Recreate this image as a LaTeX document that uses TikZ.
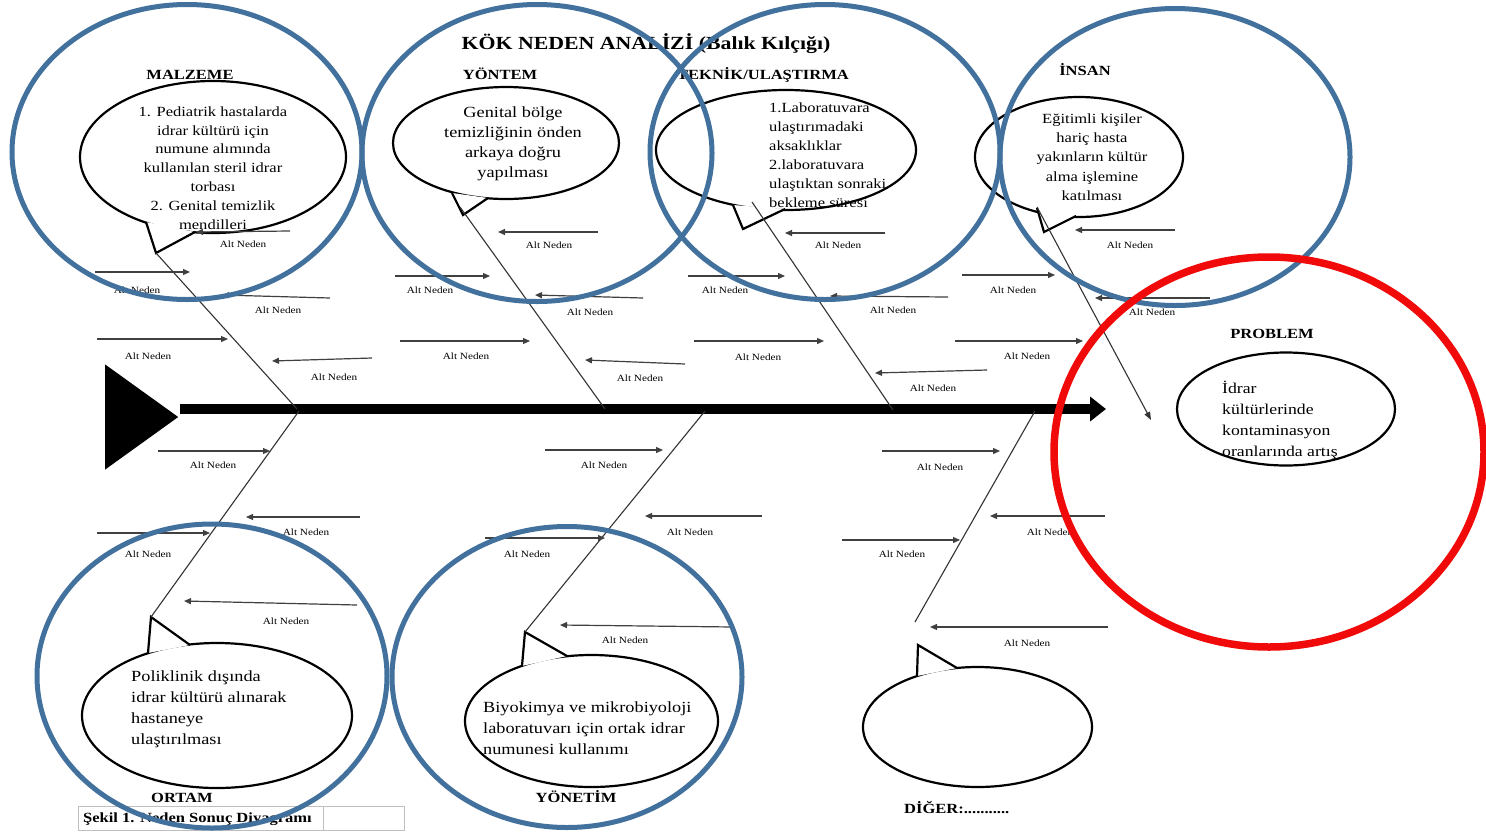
\documentclass[tikz,border=0pt]{standalone}
\usepackage{fontspec}
\setmainfont{Liberation Serif}[FakeStretch=1.18]
\usetikzlibrary{arrows.meta,shapes.geometric}
\definecolor{bluecirc}{RGB}{65,113,156}
\definecolor{redcirc}{RGB}{240,10,10}
\tikzset{
  bone/.style={draw=black!80, line width=1.1pt},
  altarrow/.style={draw=black!75, line width=1.2pt, -{Triangle[length=7pt,width=6pt]}},
  altlbl/.style={font=\fontsize{9.5}{10}\selectfont, inner sep=0pt},
  cat/.style={font=\fontsize{14}{16}\selectfont\bfseries, inner sep=0pt},
  bubble/.style={ellipse, draw=black, line width=2.2pt, fill=white, inner sep=0pt},
  tailfill/.style={fill=white, draw=none},
  tailline/.style={draw=black, line width=2.2pt, line join=miter},
  btext/.style={inner sep=0pt, align=center},
  loop/.style={ellipse, draw=bluecirc, line width=5pt, inner sep=0pt},
  redloop/.style={ellipse, draw=redcirc, line width=7.5pt, inner sep=0pt},
}
\newcommand\altn[7]{%
  \coordinate (#1s) at (#2,#3);
  \coordinate (#1e) at (#4,#5);
  \draw[altarrow] (#1s) -- (#1e);
  \node[altlbl] (#1l) at (#6,#7) {Alt Neden};}
\newcommand\tail[4]{%
  \fill[tailfill] (#2) -- (#3) -- (#4) -- cycle;
  \draw[tailline] (#2) -- (#3) -- (#4);}
\begin{document}
\begin{tikzpicture}[x=1pt,y=-1pt]
\useasboundingbox[fill=white] (0,0) rectangle (1486,831);

% title
\node[font=\fontsize{18.5}{20}\selectfont\bfseries, inner sep=0pt] (title) at (646,44) {KÖK NEDEN ANALİZİ (Balık Kılçığı)};

% head and spine
\node[isosceles triangle, fill=black, minimum height=73pt, minimum width=105pt, isosceles triangle stretches, inner sep=0pt, anchor=west] (head) at (105,417) {};
\coordinate (spS) at (180,409);
\coordinate (spE) at (1106,409);
\draw[line width=10pt, -{Triangle[length=16pt,width=24pt]}] (spS) -- (spE);

% bones
\coordinate (b1a) at (156,253); \coordinate (b1b) at (297,409);
\coordinate (b2a) at (460,207); \coordinate (b2b) at (605,409);
\coordinate (b3a) at (752,202); \coordinate (b3b) at (893,410);
\coordinate (b4a) at (1037,207); \coordinate (b4b) at (1151,420);
\coordinate (b5a) at (151,617); \coordinate (b5b) at (299,411);
\coordinate (b6a) at (525,632); \coordinate (b6b) at (705,411);
\coordinate (b7a) at (915,622); \coordinate (b7b) at (1035,411);

% bubbles
\node[bubble, minimum width=266pt, minimum height=152pt] (m) at (213,157) {};
\coordinate (m1) at (146,222); \coordinate (m2) at (195,232);
\tail{m}{m1}{b1a}{m2}
\node[btext, font=\fontsize{14}{18.8}\selectfont] (mt) at (213,168) {1. Pediatrik hastalarda\\idrar kültürü için\\numune alımında\\kullanılan steril idrar\\torbası\\2. Genital temizlik\\mendilleri};

\node[bubble, minimum width=226pt, minimum height=112pt] (y) at (506,143) {};
\coordinate (y1) at (452,193); \coordinate (y2) at (488,198); \coordinate (yt) at (463,215);
\tail{y}{y1}{yt}{y2}
\node[btext, font=\fontsize{15.5}{20}\selectfont] (yx) at (513,144) {Genital bölge\\temizliğinin önden\\arkaya doğru\\yapılması};

\node[bubble, minimum width=260pt, minimum height=120pt] (t) at (786,150) {};
\coordinate (t1) at (733,205); \coordinate (t2) at (785,209); \coordinate (tt) at (743,229);
\tail{t}{t1}{tt}{t2}
\node[btext, align=left, anchor=west, font=\fontsize{14}{19}\selectfont] (tx) at (769,155) {1.Laboratuvara\\ulaştırımadaki\\aksaklıklar\\2.laboratuvara\\ulaştıktan sonraki\\bekleme süresi};

\node[bubble, minimum width=208pt, minimum height=120pt] (i) at (1079,157) {};
\coordinate (i1) at (1037,208); \coordinate (i2) at (1076,216); \coordinate (it) at (1044,232);
\tail{i}{i1}{it}{i2}
\node[btext, font=\fontsize{14}{19.3}\selectfont] (ix) at (1092,157) {Eğitimli kişiler\\hariç hasta\\yakınların kültür\\alma işlemine\\katılması};

\node[bubble, minimum width=218pt, minimum height=113pt] (p) at (1286,409) {};
\node[btext, align=left, anchor=west, font=\fontsize{15}{21}\selectfont] (px) at (1222,420) {İdrar\\kültürlerinde\\kontaminasyon\\oranlarında artış};

\node[bubble, minimum width=270pt, minimum height=145pt] (o) at (217,715.5) {};
\coordinate (o1) at (148,653); \coordinate (o2) at (190,645);
\tail{o}{o1}{b5a}{o2}
\node[btext, align=left, anchor=west, font=\fontsize{15.5}{21}\selectfont] (ox) at (131,709) {Poliklinik dışında\\idrar kültürü alınarak\\hastaneye\\ulaştırılması};

\node[bubble, minimum width=253pt, minimum height=132pt] (yo) at (591.5,721) {};
\coordinate (yo1) at (522,666); \coordinate (yo2) at (567,656);
\tail{yo}{yo1}{b6a}{yo2}
\node[btext, align=left, anchor=west, font=\fontsize{15.5}{21}\selectfont] (yox) at (483,728) {Biyokimya ve mikrobiyoloji\\laboratuvarı için ortak idrar\\numunesi kullanımı};

\node[bubble, minimum width=229pt, minimum height=120pt] (d) at (977.5,727) {};
\coordinate (d1) at (917,676); \coordinate (d2) at (957,668); \coordinate (dt) at (918,645);
\tail{d}{d1}{dt}{d2}

% bone lines
\draw[bone] (b1a) -- (b1b);
\draw[bone] (b2a) -- (b2b);
\draw[bone] (b3a) -- (b3b);
\draw[bone, -{Triangle[length=8pt,width=6pt]}] (b4a) -- (b4b);
\draw[bone] (b5a) -- (b5b);
\draw[bone] (b6a) -- (b6b);
\draw[bone] (b7a) -- (b7b);

% category labels
\node[cat] (lm) at (190,75) {MALZEME};
\node[cat] (ly) at (500,74) {YÖNTEM};
\node[cat] (lt) at (763,75) {TEKNİK/ULAŞTIRMA};
\node[cat] (li) at (1085,70) {İNSAN};
\node[cat] (lp) at (1272,334) {PROBLEM};
\node[cat, fill=white, inner sep=2pt] (lo) at (182,798) {ORTAM};
\node[cat, fill=white, inner sep=2pt] (lyo) at (576,797) {YÖNETİM};
\node[cat, anchor=west] (ld) at (904,808) {DİĞER:...........};

% sub-cause arrows: Malzeme
\altn{a1}{95}{272}{190}{272}{137}{290}
\altn{a2}{290}{231}{196}{232}{243}{244}
\altn{a3}{330}{298}{222}{295}{278}{310}
\altn{a4}{97}{339}{228}{339}{148}{356}
\altn{a5}{372}{358}{272}{361}{334}{377}
% Ortam
\altn{a6}{158}{451}{270}{451}{213}{465}
\altn{a7}{360}{517}{246}{517}{306}{532}
\altn{a8}{97}{533}{210}{533}{148}{554}
\altn{a9}{357}{605}{184}{601}{286}{621}
% Yontem
\altn{a10}{598}{232}{498}{232}{549}{245}
\altn{a11}{395}{276}{490}{276}{430}{290}
\altn{a12}{643}{298}{535}{295}{590}{312}
\altn{a13}{400}{341}{530}{341}{466}{356}
\altn{a14}{685}{364}{585}{360}{640}{378}
% Yonetim
\altn{a15}{545}{450}{663}{450}{604}{465}
\altn{a16}{762}{516}{645}{516}{690}{532}
\altn{a17}{485}{538}{605}{538}{527}{554}
\altn{a18}{733}{627}{560}{625}{625}{640}
% Teknik
\altn{a19}{885}{233}{785}{233}{838}{245}
\altn{a20}{688}{276}{785}{276}{725}{290}
\altn{a21}{948}{297}{830}{296}{893}{310}
\altn{a22}{694}{341}{824}{341}{758}{357}
\altn{a23}{987}{370}{875}{373}{933}{388}
% Diger
\altn{a24}{882}{451}{1000}{451}{940}{467}
\altn{a25}{1105}{516}{990}{516}{1050}{532}
\altn{a26}{842}{540}{960}{540}{902}{554}
\altn{a27}{1108}{627}{930}{627}{1027}{643}
% Insan
\altn{a28}{1175}{230}{1075}{230}{1130}{245}
\altn{a29}{962}{275}{1055}{275}{1013}{290}
\altn{a30}{1210}{298}{1095}{298}{1152}{312}
\altn{a31}{955}{341}{1083}{341}{1027}{356}

% caption
\draw[gray!50, line width=0.8pt] (78,806) rectangle (404,830);
\draw[gray!50, line width=0.8pt] (323,806) -- (323,830);
\node[anchor=west, inner sep=0pt, font=\fontsize{14}{16}\selectfont\bfseries] (cap) at (83,819) {Şekil 1. Neden Sonuç Diyagramı};

% highlight loops
\node[loop, minimum width=350pt, minimum height=295pt] (c1) at (187,152) {};
\node[loop, minimum width=350pt, minimum height=297pt] (c2) at (537,153) {};
\node[loop, minimum width=350pt, minimum height=295pt] (c3) at (825,152) {};
\node[loop, minimum width=350pt, minimum height=297pt] (c4) at (1175,157) {};
\node[loop, minimum width=350pt, minimum height=304pt] (c5) at (212,676) {};
\node[loop, minimum width=350pt, minimum height=301pt] (c6) at (567,677) {};
\node[redloop, minimum width=430pt, minimum height=390pt] (c7) at (1269,452) {};
\end{tikzpicture}
\end{document}
